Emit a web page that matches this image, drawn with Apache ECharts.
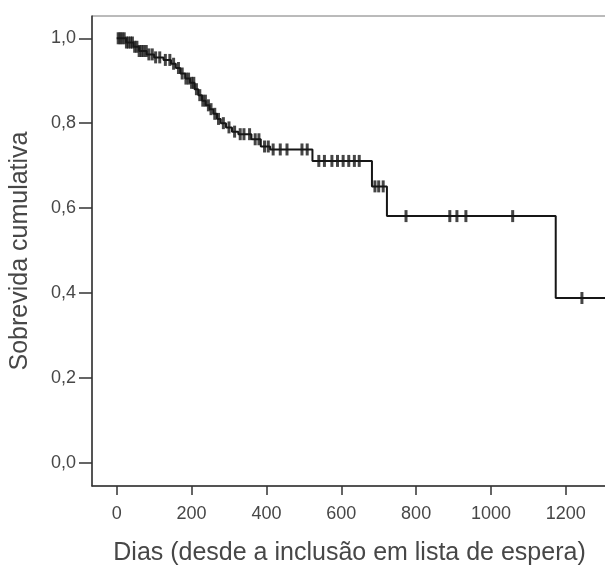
<!DOCTYPE html>
<html>
<head>
<meta charset="utf-8">
<script src="https://cdn.jsdelivr.net/npm/echarts@6/dist/echarts.min.js"></script>
<style>
html, body { margin: 0; padding: 0; background: #fff; }
#main { width: 605px; height: 568px; }
</style>
</head>
<body>
<div id="main"></div>
<script>
// tempos (dias) em que a sobrevida muda, e o valor depois da queda
var kmDias = [0, 25, 45, 60, 80, 100, 125, 145, 158, 170, 183, 196, 208, 218, 228, 238, 248, 258, 268, 278, 292, 308, 325, 360, 385, 410, 523, 682, 722, 1173, 1310];
var kmSobrevida = [1.0, 0.99, 0.98, 0.97, 0.962, 0.955, 0.949, 0.94, 0.93, 0.917, 0.905, 0.895, 0.88, 0.866, 0.853, 0.842, 0.833, 0.822, 0.81, 0.8, 0.79, 0.78, 0.774, 0.762, 0.745, 0.738, 0.711, 0.651, 0.581, 0.388, 0.388];
// casos censurados (dias)
var censurados = [4, 9, 14, 20, 26, 31, 37, 42, 48, 54, 60, 66, 72, 79, 86, 95, 104, 115, 130, 142, 152, 165, 175, 185, 192, 200, 206, 213, 222, 230, 237, 245, 252, 262, 272, 285, 300, 315, 330, 340, 355, 370, 380, 395, 405,
    418, 437, 455, 495, 509, 540, 555, 575, 590, 605, 620, 635, 648, 690, 700, 712, 773, 890, 909, 933, 1058, 1243];
var ticksX = [0, 200, 400, 600, 800, 1000, 1200];
var ticksY = [0, 0.2, 0.4, 0.6, 0.8, 1.0];

var myChart = echarts.init(document.getElementById('main'));

function sobrevidaEm(t) {
    var s = kmSobrevida[0];
    for (var i = 0; i < kmDias.length; i++) {
        if (kmDias[i] <= t) s = kmSobrevida[i];
    }
    return s;
}

var linha = [];
for (var i = 0; i < kmDias.length; i++) {
    linha.push([kmDias[i], kmSobrevida[i]]);
}
var marcas = censurados.map(function (t) {
    return [t, sobrevidaEm(t)];
});

var corTexto = '#474747';
var corEixo = '#333';

var option = {
    animation: false,
    backgroundColor: '#fff',
    grid: {
        left: 92,
        top: 16,
        right: -2,
        bottom: 82,
        outerBoundsMode: 'none',
        show: true,
        borderColor: '#777',
        borderWidth: 1
    },
    xAxis: {
        type: 'value',
        min: -66,
        max: 1310,
        name: 'Dias (desde a inclusão em lista de espera)',
        nameLocation: 'middle',
        nameGap: 55,
        nameTextStyle: { fontFamily: 'Liberation Sans', fontSize: 25, color: corTexto },
        splitLine: { show: false },
        axisLine: { show: true, onZero: false, lineStyle: { color: corEixo, width: 1.5 } },
        axisTick: { show: true, length: 9, customValues: ticksX, lineStyle: { color: corEixo, width: 1.5 } },
        axisLabel: {
            customValues: ticksX,
            margin: 19,
            fontFamily: 'Liberation Sans',
            fontSize: 18,
            color: corTexto,
            formatter: function (v) {
                return String(v);
            }
        }
    },
    yAxis: {
        type: 'value',
        min: -0.055,
        max: 1.0525,
        name: 'Sobrevida cumulativa',
        nameLocation: 'middle',
        nameGap: 59,
        nameTextStyle: { fontFamily: 'Liberation Sans', fontSize: 25, color: corTexto },
        splitLine: { show: false },
        axisLine: { show: true, onZero: false, lineStyle: { color: corEixo, width: 1.5 } },
        axisTick: { show: true, length: 13, customValues: ticksY, lineStyle: { color: corEixo, width: 1.5 } },
        axisLabel: {
            customValues: ticksY,
            margin: 16,
            fontFamily: 'Liberation Sans',
            fontSize: 18,
            color: corTexto,
            formatter: function (v) {
                return v.toFixed(1).replace('.', ',');
            }
        }
    },
    series: [{
        name: 'Sobrevida',
        type: 'line',
        step: 'end',
        data: linha,
        showSymbol: false,
        lineStyle: { color: '#161616', width: 2 }
    }, {
        name: 'Censurado',
        type: 'scatter',
        data: marcas,
        symbol: 'rect',
        symbolSize: [3, 12],
        itemStyle: { color: '#161616' }
    }]
};
myChart.setOption(option);
</script>
</body>
</html>
